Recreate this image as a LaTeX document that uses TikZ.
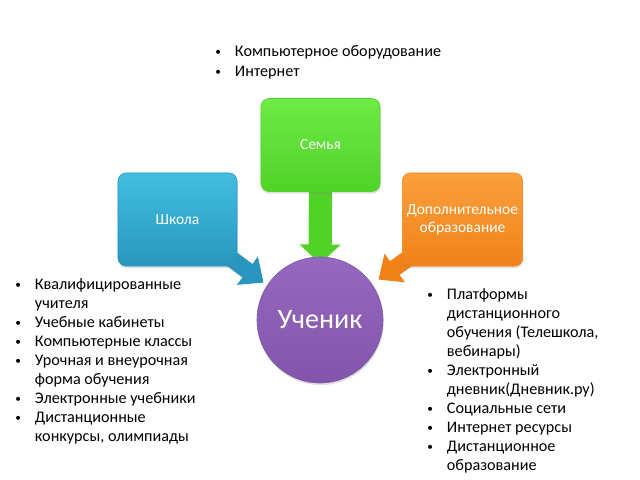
\documentclass[tikz,border=0pt]{standalone}
\usepackage{fontspec}
\setmainfont{Carlito}
\usetikzlibrary{arrows.meta,backgrounds,shadows}

\definecolor{blueTop}{RGB}{66,190,225}
\definecolor{blueBot}{RGB}{40,150,190}
\definecolor{greenTop}{RGB}{110,235,70}
\definecolor{greenBot}{RGB}{80,210,40}
\definecolor{orangeTop}{RGB}{250,160,60}
\definecolor{orangeBot}{RGB}{240,130,25}
\definecolor{purpleTop}{RGB}{150,105,190}
\definecolor{purpleBot}{RGB}{130,85,170}

\newcommand\itm{\makebox[14pt][l]{\raisebox{0.6pt}{\scalebox{0.7}{\textbullet}}}}
\newcommand\ind{\hspace*{14pt}}

\tikzset{
  box/.style={rectangle, rounded corners=0.2cm, minimum width=2.975cm,
    minimum height=2.325cm, text=white, align=center,
    font=\fontsize{11}{13}\selectfont,
    drop shadow={opacity=0.25, shadow xshift=0.5pt, shadow yshift=-1.5pt}},
  list/.style={anchor=north west, inner sep=0pt, align=left,
    font=\fontsize{11.5}{13.5}\selectfont},
  blockarrow/.style={line width=0.42cm,
    -{Triangle[length=0.5cm, width=0.85cm]}}
}

\begin{document}
\begin{tikzpicture}[x=0.025cm, y=-0.025cm]
  \useasboundingbox (0,0) rectangle (640,480);

  \node[box, top color=blueTop, bottom color=blueBot, draw=blueBot] (shkola) at (177.5,219.5) {Школа};
  \node[box, top color=greenTop, bottom color=greenBot, draw=greenBot] (semya) at (320.5,145) {Семья};
  \node[box, top color=orangeTop, bottom color=orangeBot, draw=orangeBot] (dop) at (462.5,219.5) {Дополнительное\\образование};

  \node[circle, minimum size=3.15cm, top color=purpleTop, bottom color=purpleBot,
    draw=purpleBot, text=white, font=\fontsize{20}{24}\selectfont,
    drop shadow={opacity=0.25, shadow xshift=0.5pt, shadow yshift=-1.5pt}] (uchenik) at (320,320) {Ученик};

  \begin{pgfonlayer}{background}
    \draw[blockarrow, blueBot] ([shift={(-12,-12)}]shkola.south east) -- ([shift={(-4,-2)}]uchenik.146);
    \draw[blockarrow, greenBot, line width=0.58cm, -{Triangle[length=0.48cm, width=1cm]}] (semya.south) -- ([yshift=-5]uchenik.north);
    \draw[blockarrow, orangeBot] ([shift={(12,-12)}]dop.south west) -- ([shift={(6,-5)}]uchenik.34);
  \end{pgfonlayer}

  \node[list, font=\fontsize{11.5}{14.5}\selectfont] (seminfo) at (215,45) {\itm Компьютерное оборудование\\\itm Интернет};

  \node[list] (shkinfo) at (15,278) {\itm Квалифицированные\\\ind учителя\\\itm Учебные кабинеты\\\itm Компьютерные классы\\\itm Урочная и внеурочная\\\ind форма обучения\\\itm Электронные учебники\\\itm Дистанционные\\\ind конкурсы, олимпиады};

  \node[list] (dopinfo) at (427,288) {\itm Платформы\\\ind дистанционного\\\ind обучения (Телешкола,\\\ind вебинары)\\\itm Электронный\\\ind дневник(Дневник.ру)\\\itm Социальные сети\\\itm Интернет ресурсы\\\itm Дистанционное\\\ind образование};
\end{tikzpicture}
\end{document}
